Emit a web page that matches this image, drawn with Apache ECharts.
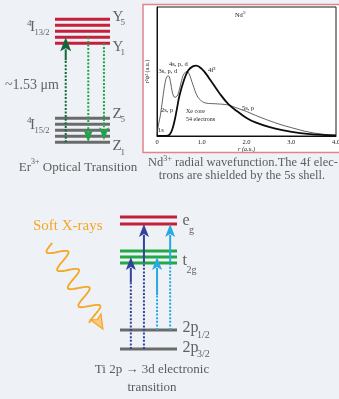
<!DOCTYPE html>
<html>
<head>
<meta charset="utf-8">
<script src="https://cdn.jsdelivr.net/npm/echarts@6/dist/echarts.min.js"></script>
<style>
  html, body { margin: 0; padding: 0; background: #eef2f6; }
  #chart { width: 339px; height: 399px; }
</style>
</head>
<body>
<div id="chart"></div>
<script>
// ---- Er3+ crystal-field levels (arbitrary energy units) ----
const erUpperLevels = [99, 105, 111, 117, 123];   // 4I13/2 : Y1 .. Y5
const erLowerLevels = [0, 6, 12, 18, 24];         // 4I15/2 : Z1 .. Z5
// transitions: [position across the level band (0..1), from, to]
const erAbsorption = [[0.195, 0, 105]];
const erEmission = [[0.605, 105, 0], [0.89, 99, 2]];

// ---- Nd3+ radial wavefunctions r^2 psi^2 (a.u.) ----
const ndR4f = [0, 0.2, 0.28, 0.34, 0.4, 0.45, 0.5, 0.6, 0.7, 0.8, 0.88, 1.0, 1.1, 1.2, 1.4, 1.6, 1.8, 2.0, 2.2, 2.5, 2.8, 3.2, 3.6, 4.0];
const nd4f  = [0, 0, 0.01, 0.05, 0.13, 0.22, 0.31, 0.43, 0.51, 0.54, 0.545, 0.52, 0.48, 0.43, 0.33, 0.245, 0.19, 0.14, 0.105, 0.07, 0.045, 0.022, 0.01, 0.004];
const ndRCore = [0, 0.02, 0.04, 0.07, 0.1, 0.14, 0.18, 0.22, 0.26, 0.3, 0.35, 0.4, 0.45, 0.5, 0.55, 0.6, 0.67, 0.72, 0.8, 0.9, 1.0, 1.1, 1.3, 1.5, 1.6, 1.8, 2.0, 2.2, 2.5, 2.75, 3.0, 3.4, 3.8, 4.0];
const ndCore  = [0, 0.06, 0.1, 0.15, 0.22, 0.32, 0.41, 0.46, 0.465, 0.42, 0.33, 0.3, 0.31, 0.36, 0.43, 0.48, 0.5, 0.48, 0.40, 0.31, 0.27, 0.255, 0.25, 0.245, 0.24, 0.215, 0.19, 0.16, 0.12, 0.09, 0.065, 0.03, 0.01, 0.005];
const ndTicks = [0, 1, 2, 3, 4];

// ---- Ti 2p -> 3d levels (arbitrary energy units) ----
const tiEg = [132, 125];
const tiT2g = [98, 92, 86];
const ti2p = [19, 0];                              // 2p1/2, 2p3/2
const tiFrom2p32 = [[0.19, 0, 92], [0.42, 0, 125]];
const tiFrom2p12 = [[0.65, 19, 92], [0.88, 19, 125]];
const tiPhoton = [[-1.19, 106, -0.3, 20]];         // incoming soft X-ray path

// ---- styling ----
const SERIF = '"Liberation Serif", "DejaVu Serif", serif';
const RED = '#c41f3b', GREY_BAR = '#6b6b6b', GREEN_BAR = '#22a845';
const LABEL = '#626262', CAPTION = '#5c5c5c';
const tiSolidPx = { deep: [12, 25], light: [25, 25] };

function levelSeries(gridIdx, levels, color, width) {
  return {
    type: 'custom', xAxisIndex: gridIdx, yAxisIndex: gridIdx, silent: true,
    encode: { x: [0, 1], y: 2 },
    data: levels.map(e => [0, 1, e]),
    renderItem(params, api) {
      const a = api.coord([api.value(0), api.value(2)]);
      const b = api.coord([api.value(1), api.value(2)]);
      return { type: 'line', shape: { x1: a[0], y1: a[1], x2: b[0], y2: b[1] },
        style: { stroke: color, lineWidth: width } };
    }
  };
}

function arrowSeries(gridIdx, items, color, head, solid) {
  return {
    type: 'custom', xAxisIndex: gridIdx, yAxisIndex: gridIdx, silent: true,
    encode: { x: 0, y: [1, 2] },
    data: items,
    renderItem(params, api) {
      const a = api.coord([api.value(0), api.value(1)]);
      const b = api.coord([api.value(0), api.value(2)]);
      const dir = Math.sign(b[1] - a[1]);
      const x = b[0];
      const baseY = b[1] - dir * head.l;
      const sLen = solid[params.dataIndex] || 0;
      const solidEnd = baseY - dir * sLen;
      const children = [
        { type: 'line', shape: { x1: x, y1: a[1], x2: x, y2: solidEnd },
          style: { stroke: color, lineWidth: 2, lineDash: [2, 1.6] } }
      ];
      if (sLen > 0) {
        children.push({ type: 'line', shape: { x1: x, y1: solidEnd, x2: x, y2: baseY + dir * 2 },
          style: { stroke: color, lineWidth: 2 } });
      }
      children.push({ type: 'polygon', shape: { points: [
        [x, b[1]], [x + head.w / 2, baseY], [x, baseY + dir * 3], [x - head.w / 2, baseY]
      ] }, style: { fill: color } });
      return { type: 'group', children };
    }
  };
}

const photonSeries = {
  type: 'custom', xAxisIndex: 2, yAxisIndex: 2, silent: true, clip: false,
  encode: { x: [0, 2], y: [1, 3] },
  data: tiPhoton,
  renderItem(params, api) {
    const p0 = api.coord([api.value(0), api.value(1)]);
    const p1 = api.coord([api.value(2), api.value(3)]);
    const dx = p1[0] - p0[0], dy = p1[1] - p0[1];
    const L = Math.hypot(dx, dy);
    const u = [dx / L, dy / L], n = [-u[1], u[0]];
    const headL = 14, headW = 12;
    const waveLen = L - headL + 2;
    const period = waveLen / 4.2, amp = 9.5;
    const pts = [];
    for (let s = 0; s <= waveLen; s += 0.5) {
      const o = amp * Math.sin(2 * Math.PI * s / period);
      pts.push([p0[0] + u[0] * s + n[0] * o, p0[1] + u[1] * s + n[1] * o]);
    }
    const bc = [p1[0] - u[0] * headL, p1[1] - u[1] * headL];
    return { type: 'group', children: [
      { type: 'polyline', shape: { points: pts }, style: { stroke: '#f5a623', lineWidth: 1.8, fill: null } },
      { type: 'polygon', shape: { points: [
        p1,
        [bc[0] + n[0] * headW / 2, bc[1] + n[1] * headW / 2],
        [bc[0] + u[0] * 3, bc[1] + u[1] * 3],
        [bc[0] - n[0] * headW / 2, bc[1] - n[1] * headW / 2]
      ] }, style: { fill: '#fbc97f', stroke: '#f5a623', lineWidth: 1.2 } }
    ] };
  }
};

function txt(x, y, text, size, fill, align, extra) {
  return { type: 'text', x, y, z: 10, silent: true,
    style: Object.assign({ text, fontSize: size, fontFamily: SERIF, fill,
      align: align || 'left', verticalAlign: 'middle' }, extra || {}) };
}
// text with an ion charge written as a raised superscript
function ionTxt(x, y, text, size, fill, align) {
  return txt(x, y, text, size, fill, align, {
    rich: {
      sup: { fontSize: Math.round(size * 0.62), fontFamily: SERIF, fill, verticalAlign: 'top', lineHeight: size * 1.2 },
      n: { fontSize: size, fontFamily: SERIF, fill, verticalAlign: 'bottom', lineHeight: size * 1.2 }
    }
  });
}

const chart = echarts.init(document.getElementById('chart'), null, { renderer: 'canvas' });

chart.setOption({
  animation: false,
  backgroundColor: '#eef2f6',
  grid: [
    { left: 55, top: 19.3, width: 55, height: 123, containLabel: false, outerBoundsMode: 'none' },
    { left: 157, top: 7, width: 179, height: 129, containLabel: false, outerBoundsMode: 'none',
      show: true, borderColor: '#1a1a1a', borderWidth: 1, backgroundColor: '#ffffff' },
    { left: 120, top: 217, width: 57, height: 132, containLabel: false, outerBoundsMode: 'none' }
  ],
  xAxis: [
    { type: 'value', gridIndex: 0, min: 0, max: 1, show: false },
    { type: 'value', gridIndex: 1, min: 0, max: 4, interval: 1,
      name: 'r (a.u.)', nameLocation: 'middle', nameGap: 9,
      nameTextStyle: { fontSize: 6, fontFamily: SERIF, color: '#222', fontStyle: 'italic' },
      axisLine: { show: true, lineStyle: { color: '#111', width: 1 } },
      axisTick: { show: false }, splitLine: { show: false },
      axisLabel: { fontSize: 6.5, fontFamily: SERIF, color: '#222', margin: 3,
        formatter: v => (ndTicks.includes(v) ? (v === 0 ? '0' : v.toFixed(1)) : '') } },
    { type: 'value', gridIndex: 2, min: 0, max: 1, show: false }
  ],
  yAxis: [
    { type: 'value', gridIndex: 0, min: 0, max: 123, show: false },
    { type: 'value', gridIndex: 1, min: 0, max: 1,
      name: 'r²ψ² (a.u.)', nameLocation: 'middle', nameGap: 7, nameRotate: 90,
      nameTextStyle: { fontSize: 6, fontFamily: SERIF, color: '#222' },
      axisLine: { show: true, lineStyle: { color: '#111', width: 1 } },
      axisTick: { show: false }, axisLabel: { show: false }, splitLine: { show: false } },
    { type: 'value', gridIndex: 2, min: 0, max: 132, show: false }
  ],
  graphic: [
    { type: 'rect', z: -1, silent: true, shape: { x: 143, y: 4.5, width: 210, height: 148 },
      style: { fill: '#ffffff', stroke: '#e0858d', lineWidth: 1.5 } },

    // Er3+ level labels
    txt(27, 23.5, '4', 9, LABEL), txt(30, 27.5, 'I', 15, LABEL), txt(34.5, 33, '13/2', 8.5, LABEL),
    txt(27, 121, '4', 9, LABEL), txt(30, 125.5, 'I', 15, LABEL), txt(34.5, 131, '15/2', 8.5, LABEL),
    txt(112.5, 17, 'Y', 15, LABEL), txt(120.5, 23, '5', 9, LABEL),
    txt(112.5, 47, 'Y', 15, LABEL), txt(120.5, 53, '1', 9, LABEL),
    txt(112.5, 114, 'Z', 15, LABEL), txt(120.5, 120, '5', 9, LABEL),
    txt(112.5, 146.5, 'Z', 15, LABEL), txt(120.5, 153, '1', 9, LABEL),
    txt(5, 85, '~1.53 μm', 14, LABEL),
    ionTxt(78, 166, '{n|Er}{sup|3+}{n| Optical Transition}', 13, CAPTION, 'center'),

    // Nd3+ plot annotations
    ionTxt(241, 15, '{n|Nd}{sup|3+}', 6.5, '#222', 'center'),
    txt(208, 70, '4f³', 6.5, '#222'),
    txt(169, 64.5, '4s, p, d', 6.5, '#222'),
    txt(158.5, 71, '3s, p, d', 6.5, '#222'),
    txt(161, 110, '2s, p', 6.5, '#222'),
    txt(158, 130.5, '1s', 6.5, '#222'),
    txt(186, 111, 'Xe core', 6, '#222'),
    txt(186, 119.5, '54 electrons', 6, '#222'),
    txt(242, 108.5, '5s, p', 6.5, '#222'),
    ionTxt(243, 162, '{n|Nd}{sup|3+}{n| radial wavefunction.The 4f elec-}', 12.5, CAPTION, 'center'),
    txt(242, 176, 'trons are shielded by the 5s shell.', 12.5, CAPTION, 'center'),

    // Ti level labels
    txt(182.5, 221, 'e', 16, LABEL), txt(189, 230, 'g', 10, LABEL),
    txt(182.5, 261, 't', 16, LABEL), txt(186.5, 270, '2g', 10, LABEL),
    txt(182.5, 327.5, '2p', 16, LABEL), txt(197, 335, '1/2', 10, LABEL),
    txt(182.5, 347.5, '2p', 16, LABEL), txt(197, 354.5, '3/2', 10, LABEL),
    txt(33, 226, 'Soft X-rays', 15, '#f5a623'),
    txt(152, 370, 'Ti 2p → 3d electronic', 13, CAPTION, 'center'),
    txt(152, 388, 'transition', 13, CAPTION, 'center')
  ],
  series: [
    levelSeries(0, erUpperLevels, RED, 3),
    levelSeries(0, erLowerLevels, GREY_BAR, 3),
    arrowSeries(0, erAbsorption, '#10693a', { w: 11, l: 14 }, [9]),
    arrowSeries(0, erEmission, '#1fa64b', { w: 10, l: 13 }, [0, 0]),

    { type: 'line', xAxisIndex: 1, yAxisIndex: 1, silent: true, showSymbol: false, smooth: 0.4,
      data: ndRCore.map((r, i) => [r, ndCore[i]]),
      lineStyle: { color: '#3a3a3a', width: 0.8 } },
    { type: 'line', xAxisIndex: 1, yAxisIndex: 1, silent: true, showSymbol: false, smooth: 0.4,
      data: ndR4f.map((r, i) => [r, nd4f[i]]),
      lineStyle: { color: '#0d0d0d', width: 1.8 } },

    levelSeries(2, tiEg, RED, 3),
    levelSeries(2, tiT2g, GREEN_BAR, 3),
    levelSeries(2, ti2p, GREY_BAR, 3),
    arrowSeries(2, tiFrom2p32, '#33439b', { w: 10, l: 13 }, tiSolidPx.deep),
    arrowSeries(2, tiFrom2p12, '#2aa8e2', { w: 10, l: 13 }, tiSolidPx.light),
    photonSeries
  ]
});
</script>
</body>
</html>
